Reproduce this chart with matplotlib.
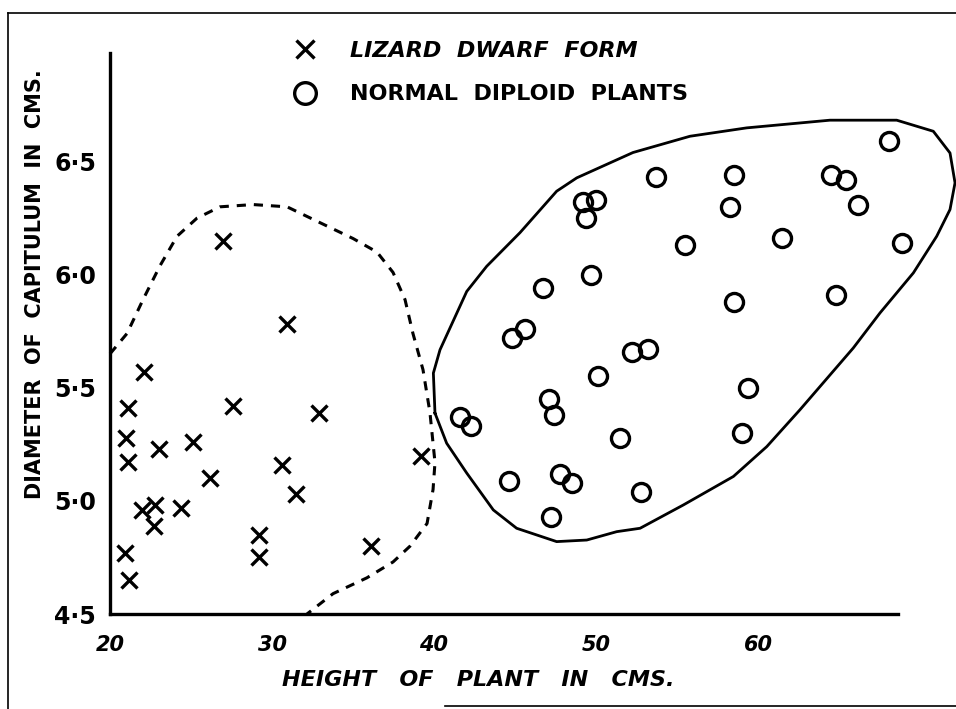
import matplotlib.pyplot as plt
from matplotlib.lines import Line2D

# lizard dwarf form (crosses)
dwarf_height = [27.0, 30.9, 22.1, 21.1, 27.6, 32.9, 21.0, 23.0, 25.1, 21.1, 30.6,
                39.2, 26.2, 31.5, 22.0, 22.8, 24.4, 22.7, 29.2, 29.2, 36.1, 20.9, 21.2]
dwarf_diam = [6.15, 5.78, 5.57, 5.41, 5.42, 5.39, 5.28, 5.23, 5.26, 5.17, 5.16,
              5.20, 5.10, 5.03, 4.96, 4.98, 4.97, 4.89, 4.85, 4.75, 4.80, 4.77, 4.65]

# normal diploid plants (circles)
diploid_height = [53.7, 49.2, 50.0, 49.4, 55.5, 49.7, 46.7, 45.6, 44.8, 68.1, 58.5,
                  64.5, 65.4, 58.3, 66.2, 61.5, 68.9, 58.5, 64.8, 52.2, 53.2, 50.1,
                  59.4, 47.1, 47.4, 41.6, 42.3, 51.5, 59.0, 44.6, 47.8, 48.5, 52.8, 47.2]
diploid_diam = [6.43, 6.32, 6.33, 6.25, 6.13, 6.00, 5.94, 5.76, 5.72, 6.59, 6.44,
                6.44, 6.42, 6.30, 6.31, 6.16, 6.14, 5.88, 5.91, 5.66, 5.67, 5.55,
                5.50, 5.45, 5.38, 5.37, 5.33, 5.28, 5.30, 5.09, 5.12, 5.08, 5.04, 4.93]

# hand drawn boundaries round the two groups
dwarf_outline_x = [20.0, 21.05, 22.04, 23.09, 24.14, 25.37, 26.79, 28.83, 30.93, 32.96,
                   35.0, 36.48, 37.47, 38.21, 38.70, 39.32, 39.75, 40.06, 39.94, 39.57,
                   38.52, 37.47, 35.86, 33.77, 32.16]
dwarf_outline_y = [5.65, 5.74, 5.89, 6.04, 6.17, 6.25, 6.30, 6.31, 6.30, 6.23,
                   6.16, 6.10, 6.01, 5.89, 5.74, 5.58, 5.39, 5.17, 5.05, 4.90,
                   4.80, 4.73, 4.66, 4.59, 4.50]
diploid_outline_x = [40.06, 39.96, 40.37, 42.02, 43.25, 45.31, 47.57, 48.81, 52.28, 55.80,
                     59.30, 64.44, 68.56, 70.82, 71.85, 72.16, 71.85, 71.03, 69.59, 67.53,
                     65.88, 62.59, 60.54, 58.48, 55.39, 52.72, 51.28, 49.43, 47.57, 45.10,
                     43.66, 42.02, 40.78, 40.06]
diploid_outline_y = [5.388, 5.565, 5.668, 5.926, 6.037, 6.186, 6.369, 6.428, 6.540, 6.612,
                     6.649, 6.683, 6.683, 6.634, 6.538, 6.406, 6.288, 6.170, 6.008, 5.831,
                     5.676, 5.403, 5.240, 5.108, 4.982, 4.879, 4.864, 4.827, 4.820, 4.879,
                     4.960, 5.123, 5.255, 5.388]

x_ticks = [20, 30, 40, 50, 60]
y_ticks = [4.5, 5.0, 5.5, 6.0, 6.5]
y_tick_labels = ['4·5', '5·0', '5·5', '6·0', '6·5']

plt.rcParams['font.family'] = ['DejaVu Sans']

fig = plt.figure(figsize=(9.56, 7.09), dpi=100)
ax = fig.add_axes([110 / 956, 95 / 709, 788 / 956, 561 / 709])

ax.plot(dwarf_outline_x, dwarf_outline_y, color='black', lw=2.2,
        linestyle=(0, (3.0, 2.6)), clip_on=False)
ax.plot(diploid_outline_x, diploid_outline_y, color='black', lw=2.0, clip_on=False)

ax.plot(dwarf_height, dwarf_diam, linestyle='none', marker='x', color='black',
        markersize=11, markeredgewidth=2.4, clip_on=False,
        label='LIZARD  DWARF  FORM')
ax.plot(diploid_height, diploid_diam, linestyle='none', marker='o', markerfacecolor='none',
        markeredgecolor='black', markersize=13, markeredgewidth=2.4, clip_on=False,
        label='NORMAL  DIPLOID  PLANTS')

ax.set_xlim(20, 68.64)
ax.set_ylim(4.5, 6.98)
ax.set_xticks(x_ticks)
ax.set_xticklabels([str(t) for t in x_ticks], fontsize=15, fontweight='bold', style='italic')
ax.set_yticks(y_ticks)
ax.set_yticklabels(y_tick_labels, fontsize=17, fontweight='bold')
ax.tick_params(axis='both', length=0)
ax.tick_params(axis='x', pad=15)
ax.tick_params(axis='y', pad=10)

for side in ['top', 'right']:
    ax.spines[side].set_visible(False)
for side in ['left', 'bottom']:
    ax.spines[side].set_linewidth(2.4)

ax.set_xlabel('HEIGHT   OF   PLANT   IN   CMS.', fontsize=16, style='italic',
              fontweight='semibold', va='center', ha='center')
ax.xaxis.set_label_coords(0.467, -0.118)
ax.set_ylabel('DIAMETER  OF  CAPITULUM  IN  CMS.', fontsize=15, fontweight='bold',
              va='center', ha='center')
ax.yaxis.set_label_coords(-0.095, 0.588)

leg = ax.legend(loc='upper left', bbox_to_anchor=(283 / 956, 1 - 30 / 709),
                bbox_transform=fig.transFigure, frameon=False, fontsize=16,
                handlelength=1.0, handletextpad=1.5, labelspacing=1.05,
                borderpad=0, markerscale=1.2)
for t in leg.get_texts():
    t.set_fontweight('bold')
leg.get_texts()[0].set_style('italic')

# scanned page frame
fig.add_artist(Line2D([8 / 956, 8 / 956], [0, 1 - 13 / 709], color='black', lw=1.2))
fig.add_artist(Line2D([8 / 956, 1], [1 - 13 / 709, 1 - 13 / 709], color='black', lw=1.2))
fig.add_artist(Line2D([445 / 956, 1], [1 - 706 / 709, 1 - 706 / 709], color='black', lw=1.2))

fig.savefig('out.png', dpi=100)
